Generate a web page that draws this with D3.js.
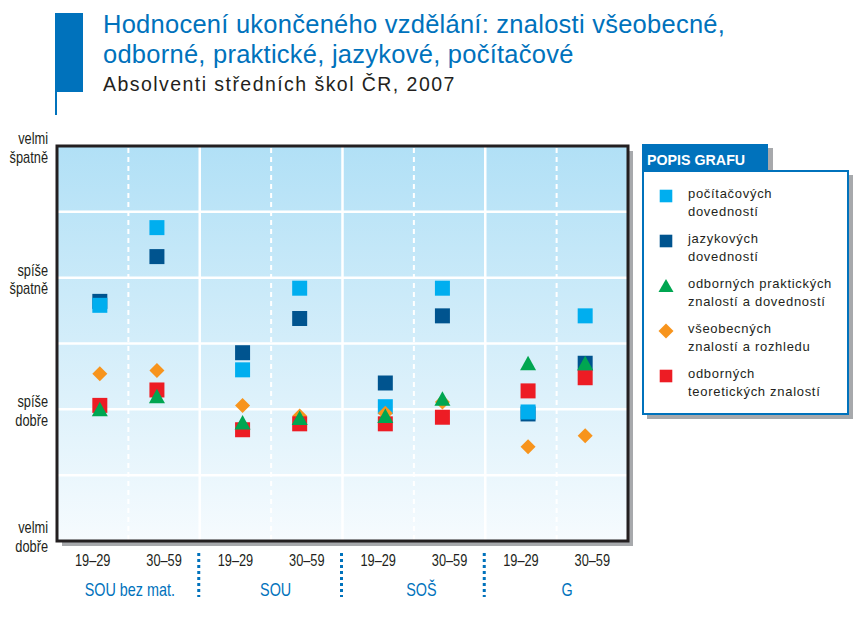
<!DOCTYPE html>
<html><head><meta charset="utf-8">
<script src="https://cdn.jsdelivr.net/npm/d3@7"></script>
<style>body{margin:0;background:#fff}svg{display:block}</style>
</head><body><svg id="c" width="861" height="617"></svg>
<script>
// ---- data ----
const groups = ["SOU bez mat.", "SOU", "SOŠ", "G"];
const ages = ["19–29", "30–59"];
const yTicks = [[4, "velmi", "špatně"], [3, "spíše", "špatně"], [2, "spíše", "dobře"], [1, "velmi", "dobře"]];
const seriesLabels = [
  ["počítačových", "dovedností"],
  ["jazykových", "dovedností"],
  ["odborných praktických", "znalostí a dovedností"],
  ["všeobecných", "znalostí a rozhledu"],
  ["odborných", "teoretických znalostí"]
];
// order: SOU bez mat. 19–29, 30–59, SOU 19–29, 30–59, SOŠ 19–29, 30–59, G 19–29, 30–59
const pocitacove = [2.79, 3.38, 2.30, 2.92, 2.02, 2.92, 1.98, 2.71];
const jazykove   = [2.82, 3.16, 2.43, 2.69, 2.20, 2.71, 1.965, 2.35];
const prakticke  = [2.00, 2.10, 1.90, 1.935, 1.95, 2.08, 2.35, 2.35];
const vseobecne  = [2.27, 2.295, 2.03, 1.95, 1.97, 2.056, 1.716, 1.80];
const teoreticke = [2.03, 2.147, 1.845, 1.89, 1.89, 1.94, 2.14, 2.24];

const seriesValues = [pocitacove, jazykove, prakticke, vseobecne, teoreticke];
const seriesColors = ["#00aeef", "#00548f", "#00a651", "#f7941d", "#ed1c24"];
const seriesShapes = ["square", "square", "triangle", "diamond", "square"];
const drawOrder = [1, 0, 3, 4, 2];

const svg = d3.select("#c");
const L = 57, R = 628, T = 146, B = 541;
const blue = "#0072bc";
const ff = "'Liberation Sans', Arial, Helvetica, sans-serif";

// condensed text helper
function ctext(g, x, y, str, size, sx, fill, anchor) {
  return g.append("text").attr("transform", `translate(${x},${y}) scale(${sx},1)`)
    .attr("font-family", ff).attr("font-size", size).attr("fill", fill)
    .attr("text-anchor", anchor || "start").text(str);
}

// ---- title ----
svg.append("rect").attr("x", 55).attr("y", 13).attr("width", 28).attr("height", 79).attr("fill", blue);
svg.append("rect").attr("x", 55).attr("y", 90).attr("width", 2).attr("height", 25).attr("fill", blue);
svg.append("text").attr("x", 103).attr("y", 33).attr("font-family", ff).attr("font-size", 25.5).attr("letter-spacing", 0.25).attr("fill", blue)
  .text("Hodnocení ukončeného vzdělání: znalosti všeobecné,");
svg.append("text").attr("x", 103).attr("y", 63).attr("font-family", ff).attr("font-size", 25.5).attr("letter-spacing", 0.25).attr("fill", blue)
  .text("odborné, praktické, jazykové, počítačové");
svg.append("text").attr("x", 103).attr("y", 91).attr("font-family", ff).attr("font-size", 19.5).attr("letter-spacing", 1.45).attr("fill", "#231f20")
  .text("Absolventi středních škol ČR, 2007");

// ---- scales ----
const y = d3.scaleLinear().domain([1, 4]).range([B, T]);
const xg = d3.scaleBand().domain(groups).range([L, R]).padding(0);
const xgl = d3.scaleBand().domain(groups).range([L, 640]).padding(0);
const xm = d3.scalePoint().domain(ages).range([0, xg.bandwidth()]).padding(0.75);
const xl = d3.scalePoint().domain(ages).range([0, xg.bandwidth()]).padding(0.5);

// ---- plot background ----
const defs = svg.append("defs");
const grad = defs.append("linearGradient").attr("id", "bg").attr("x1", 0).attr("y1", 0).attr("x2", 0).attr("y2", 1);
grad.append("stop").attr("offset", "0%").attr("stop-color", "#b1e0f6");
grad.append("stop").attr("offset", "100%").attr("stop-color", "#f6fbfe");

svg.append("rect").attr("x", L + 5).attr("y", T + 5).attr("width", R - L).attr("height", B - T).attr("fill", "#a7a9ac");
svg.append("rect").attr("x", L).attr("y", T).attr("width", R - L).attr("height", B - T).attr("fill", "url(#bg)");

// grid
const gridVals = d3.range(1.5, 4, 0.5);
svg.append("g").selectAll("line").data(gridVals).join("line")
  .attr("x1", L).attr("x2", R).attr("y1", d => y(d)).attr("y2", d => y(d))
  .attr("stroke", "#fff").attr("stroke-width", 2.5);
svg.append("g").selectAll("line").data(groups.slice(1)).join("line")
  .attr("x1", d => xg(d)).attr("x2", d => xg(d)).attr("y1", T).attr("y2", B)
  .attr("stroke", "#fff").attr("stroke-width", 2.5);
svg.append("g").selectAll("line").data(groups).join("line")
  .attr("x1", d => xg(d) + xg.bandwidth() / 2).attr("x2", d => xg(d) + xg.bandwidth() / 2)
  .attr("y1", T + 2).attr("y2", B)
  .attr("stroke", "#fff").attr("stroke-width", 2).attr("stroke-dasharray", "5,4");

// ---- markers ----
function shapePath(shape) {
  if (shape === "square") return "M-7.5,-7.5H7.5V7.5H-7.5Z";
  if (shape === "triangle") return "M0,-7.5L8,7L-8,7Z";
  return "M0,-7.5L7.5,0L0,7.5L-7.5,0Z";
}
const points = [];
drawOrder.forEach(si => {
  seriesValues[si].forEach((v, i) => {
    const g = groups[Math.floor(i / 2)], a = ages[i % 2];
    points.push({ si, v, g, a });
  });
});
svg.append("g").selectAll("path").data(points).join("path")
  .attr("d", d => shapePath(seriesShapes[d.si]))
  .attr("transform", d => `translate(${xg(d.g) + xm(d.a)},${y(d.v)})`)
  .attr("fill", d => seriesColors[d.si]);

// frame
svg.append("rect").attr("x", L).attr("y", T).attr("width", R - L).attr("height", B - T)
  .attr("fill", "none").attr("stroke", "#231f20").attr("stroke-width", 3);

// ---- y labels ----
const yl = svg.append("g");
yTicks.forEach(([v, a, b]) => {
  const yy = Math.min(y(v) + 2, 537);
  ctext(yl, 48, yy - 4, a, 16, 0.8, "#231f20", "end");
  ctext(yl, 48, yy + 14.5, b, 16, 0.8, "#231f20", "end");
});

// ---- x labels ----
const xa = svg.append("g");
groups.forEach(g => {
  ages.forEach(a => {
    ctext(xa, xg(g) + xl(a), 566, a, 16, 0.8, "#231f20", "middle");
  });
  ctext(xa, xgl(g) + xgl.bandwidth() / 2, 596, g, 18, 0.8, blue, "middle");
});
svg.append("g").selectAll("line").data(groups.slice(1)).join("line")
  .attr("x1", d => xg(d) - 1).attr("x2", d => xg(d) - 1).attr("y1", 553).attr("y2", 597)
  .attr("stroke", blue).attr("stroke-width", 3).attr("stroke-dasharray", "3,3");

// ---- legend ----
const lg = svg.append("g");
lg.append("rect").attr("x", 647).attr("y", 175).attr("width", 206).attr("height", 244).attr("fill", "#a7a9ac");
lg.append("rect").attr("x", 647).attr("y", 148).attr("width", 126).attr("height", 24).attr("fill", "#a7a9ac");
lg.append("rect").attr("x", 643).attr("y", 171).attr("width", 205).attr("height", 243).attr("fill", "#fff")
  .attr("stroke", blue).attr("stroke-width", 2);
lg.append("rect").attr("x", 642).attr("y", 144).attr("width", 126).attr("height", 27).attr("fill", blue);
ctext(lg, 647, 164.5, "POPIS GRAFU", 15.5, 0.92, "#fff").attr("font-weight", "bold");
seriesLabels.forEach((lab, i) => {
  const cy = 196 + i * 45;
  const shape = seriesShapes[i];
  let p;
  if (shape === "square") p = "M-6.3,-6.3H6.3V6.3H-6.3Z";
  else if (shape === "triangle") p = "M0,-7L7.5,6L-7.5,6Z";
  else p = "M0,-7.5L7.5,0L0,7.5L-7.5,0Z";
  lg.append("path").attr("d", p).attr("transform", `translate(666,${cy})`).attr("fill", seriesColors[i]);
  lab.forEach((t, j) => {
    lg.append("text").attr("x", 688).attr("y", cy + 2 + j * 18).attr("font-family", ff)
      .attr("font-size", 13).attr("letter-spacing", 0.7).attr("fill", "#231f20").text(t);
  });
});
</script></body></html>
